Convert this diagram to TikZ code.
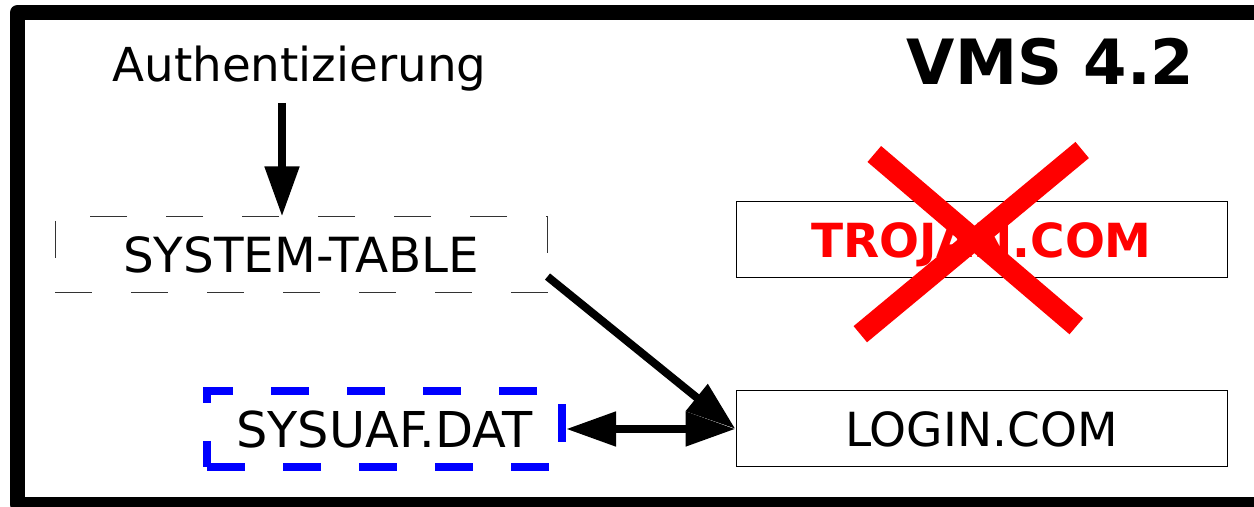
\documentclass[tikz,border=0pt]{standalone}
\usepackage{fontspec}
\setmainfont{DejaVu Sans}
\usetikzlibrary{arrows.meta}
\begin{document}
\begin{tikzpicture}[x=0.5pt,y=-0.5pt,
  lbl/.style={font=\fontsize{23.5pt}{28pt}\selectfont, text depth=0pt, inner sep=0pt, minimum height=38pt},
  filebox/.style={lbl, draw=black, line width=0.5pt, minimum width=245.5pt},
  tablebox/.style={lbl, draw=black!80, line width=0.5pt, dash pattern=on 18.5pt off 19.5pt, minimum width=246pt},
  uafbox/.style={lbl, draw=blue, line width=4pt, dash pattern=on 19pt off 19pt, minimum width=177.5pt},
  arr/.style={line width=4pt, -{Triangle[length=25pt,width=16.5pt]}},
  darr/.style={line width=4pt, {Triangle[length=25pt,width=16.5pt]}-{Triangle[length=25pt,width=16.5pt]}},
  cross/.style={draw=red, line width=10.5pt},
  frame/.style={draw=black, line width=7.5pt, line join=round}
]
\useasboundingbox (0,0) rectangle (1254,507);
\fill[white] (0,0) rectangle (1254,507);
\draw[frame] (17.5,12.5) rectangle (1290,504.5);

\node[font=\fontsize{23.4pt}{28pt}\selectfont, anchor=base, inner sep=0pt] (auth) at (299.5,82) {Authentizierung};
\node[font=\bfseries\fontsize{31.2pt}{36pt}\selectfont, anchor=base, inner sep=0pt] (vms) at (1050.5,85) {VMS 4.2};

\node[tablebox, font=\fontsize{24.2pt}{28pt}\selectfont] (st) at (301,255) {SYSTEM-TABLE};
\node[filebox, text=red, font=\bfseries\fontsize{23.5pt}{28pt}\selectfont] (trojan) at (981.5,240) {TROJAN.COM};
\node[filebox] (login) at (981.5,429) {LOGIN.COM};
\node[uafbox, font=\fontsize{24.7pt}{28pt}\selectfont] (uaf) at (384.5,429) {SYSUAF.DAT};

\coordinate (a1) at (282,103);
\draw[arr] (a1) -- (a1 |- st.north);
\draw[arr] (st.-5.8) -- (login.west);
\draw[darr] (uaf.east) -- (login.west);

\coordinate (x1) at (874.3,154);
\coordinate (x2) at (1076.3,326.3);
\coordinate (x3) at (1082.2,150);
\coordinate (x4) at (860.3,334.2);
\draw[cross] (x1) -- (x2);
\draw[cross] (x3) -- (x4);
\end{tikzpicture}
\end{document}
